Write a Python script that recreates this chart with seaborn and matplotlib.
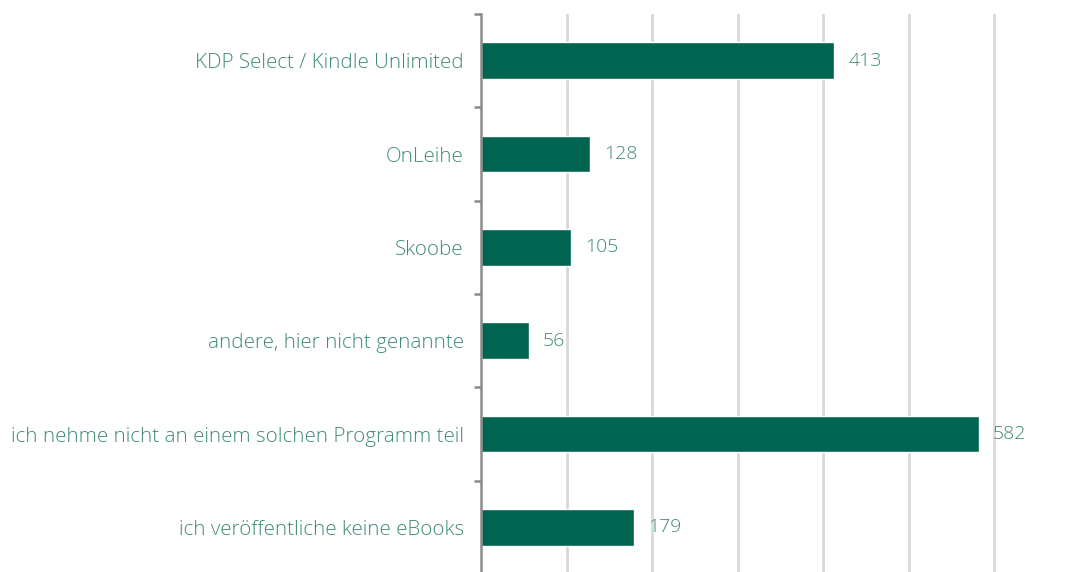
import matplotlib
matplotlib.use("Agg")
import matplotlib.pyplot as plt
import seaborn as sns
import pandas as pd
import numpy as np

categories = [
    "KDP Select / Kindle Unlimited",
    "OnLeihe",
    "Skoobe",
    "andere, hier nicht genannte",
    "ich nehme nicht an einem solchen Programm teil",
    "ich veröffentliche keine eBooks",
]
values = [413, 128, 105, 56, 582, 179]

df = pd.DataFrame({"Kategorie": categories, "Anzahl": values})

sns.set_style("white")
plt.rcParams["font.family"] = ["Open Sans", "DejaVu Sans"]

bar_color = "#006450"
text_color = "#3f8a78"

fig = plt.figure(figsize=(10.74, 5.72), dpi=100)
ax = fig.add_axes([481 / 1074, -2 / 572, 556 / 1074, 560 / 572])

sns.barplot(data=df, x="Anzahl", y="Kategorie", orient="h", color=bar_color,
            width=0.39, ax=ax, saturation=1)

ax.set_xlim(0, 650)
ax.set_ylim(len(categories) - 0.5, -0.5)
ax.set_xticks([100, 200, 300, 400, 500, 600])
ax.set_xticklabels([])
ax.tick_params(axis="x", length=0)
ax.grid(axis="x", color="#d9d9d9", linewidth=2)
ax.set_axisbelow(True)

for s in ["top", "right", "bottom"]:
    ax.spines[s].set_visible(False)
ax.spines["left"].set_color("#8c8c8c")
ax.spines["left"].set_linewidth(1.8)

ax.set_yticks(range(len(categories)))
ax.set_yticklabels(categories, color=text_color, fontsize=14.8, fontweight="light")
ax.tick_params(axis="y", which="major", left=False, length=0, pad=12.5)
ax.set_yticks(np.arange(-0.5, len(categories), 1), minor=True)
ax.tick_params(axis="y", which="minor", left=True, length=5, width=1.8,
               color="#8c8c8c", direction="out")

ax.set_xlabel("")
ax.set_ylabel("")

for i, v in enumerate(values):
    ax.annotate(str(v), xy=(v, i), xytext=(10, 0), textcoords="offset points",
                va="center", ha="left", color=text_color, fontsize=14, fontweight="light")

fig.savefig("out.png", dpi=100)
